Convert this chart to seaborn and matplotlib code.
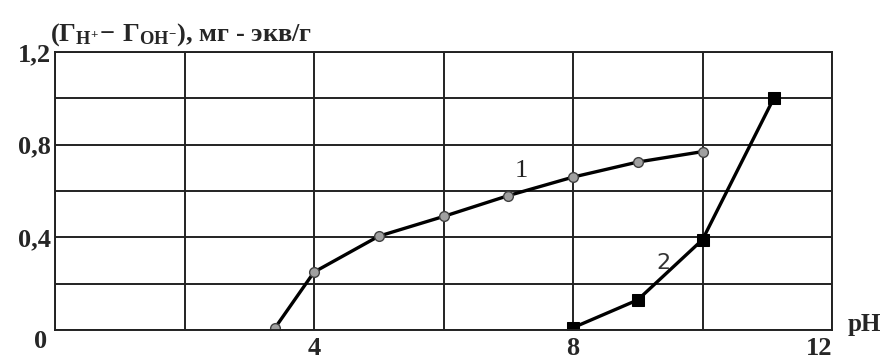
import matplotlib
matplotlib.use('Agg')
import matplotlib.pyplot as plt
import seaborn as sns
import pandas as pd

# ==================== Data ====================
ph_1 = [3.4, 4.0, 5.0, 6.0, 7.0, 8.0, 9.0, 10.0]
gamma_1 = [0.01, 0.25, 0.405, 0.49, 0.58, 0.66, 0.725, 0.77]

ph_2 = [8.0, 9.0, 10.0, 11.1]
gamma_2 = [0.01, 0.13, 0.39, 1.0]

x_ticks = [0, 2, 4, 6, 8, 10, 12]
x_labels = ['', '', '4', '', '8', '', '12']
y_ticks = [0, 0.2, 0.4, 0.6, 0.8, 1.0, 1.2]
y_labels = ['', '', '0,4', '', '0,8', '', '1,2']

df1 = pd.DataFrame({'pH': ph_1, 'G': gamma_1})
df2 = pd.DataFrame({'pH': ph_2, 'G': gamma_2})

# ==================== Style ====================
sns.set_style('white')
plt.rcParams['font.family'] = ['Liberation Serif', 'DejaVu Serif']
plt.rcParams['mathtext.fontset'] = 'custom'
plt.rcParams['mathtext.rm'] = 'Liberation Serif:bold'
plt.rcParams['mathtext.bf'] = 'Liberation Serif:bold'
plt.rcParams['mathtext.it'] = 'Liberation Serif:bold'

fig = plt.figure(figsize=(8.89, 3.6), dpi=100)
ax = fig.add_axes([0.0619, 0.0833, 0.874, 0.7723])

sns.lineplot(data=df1, x='pH', y='G', ax=ax, color='black', linewidth=2.4,
             marker='o', markersize=7, markerfacecolor='#a0a0a0',
             markeredgecolor='#404040', markeredgewidth=1.0)
sns.lineplot(data=df2, x='pH', y='G', ax=ax, color='black', linewidth=2.4,
             marker='s', markersize=8.5, markerfacecolor='black',
             markeredgecolor='black')

ax.set_xlim(0, 12)
ax.set_ylim(0, 1.2)
ax.set_xticks(x_ticks)
ax.set_xticklabels(x_labels, fontsize=19, fontweight='bold')
ax.set_yticks(y_ticks)
ax.set_yticklabels(y_labels, fontsize=19, fontweight='bold')
ax.get_xticklabels()[-1].set_ha('right')
ax.tick_params(axis='y', length=0, pad=3)
ax.tick_params(axis='x', length=0, pad=5)
ax.grid(True, color='#222222', linewidth=1.4)
ax.set_axisbelow(True)
for s in ax.spines.values():
    s.set_color('#222222')
    s.set_linewidth(1.4)
ax.set_xlabel('')
ax.set_ylabel('')

# origin label, set below the corner
ax.annotate('0', xy=(0, 0), xytext=(-6, -8), textcoords='offset points',
            ha='right', va='center', fontsize=19, fontweight='bold')

# curve numbers
ax.text(7.2, 0.685, '1', fontsize=19, ha='center', va='center', color='#222222')
ax.text(9.4, 0.29, '2', fontsize=16, ha='center', va='center', family='DejaVu Sans', color='#333333')

# axis titles
fig.text(0.953, 0.1, 'pH', fontsize=18, fontweight='bold', ha='left', va='center')
fig.text(0.056, 0.905, r'$(\Gamma_{\mathrm{H}^{+}}\!-\,\Gamma_{\mathrm{OH}^{-}})$, мг - экв/г',
         fontsize=19, fontweight='bold', ha='left', va='center')

fig.savefig('out.png', dpi=100)
